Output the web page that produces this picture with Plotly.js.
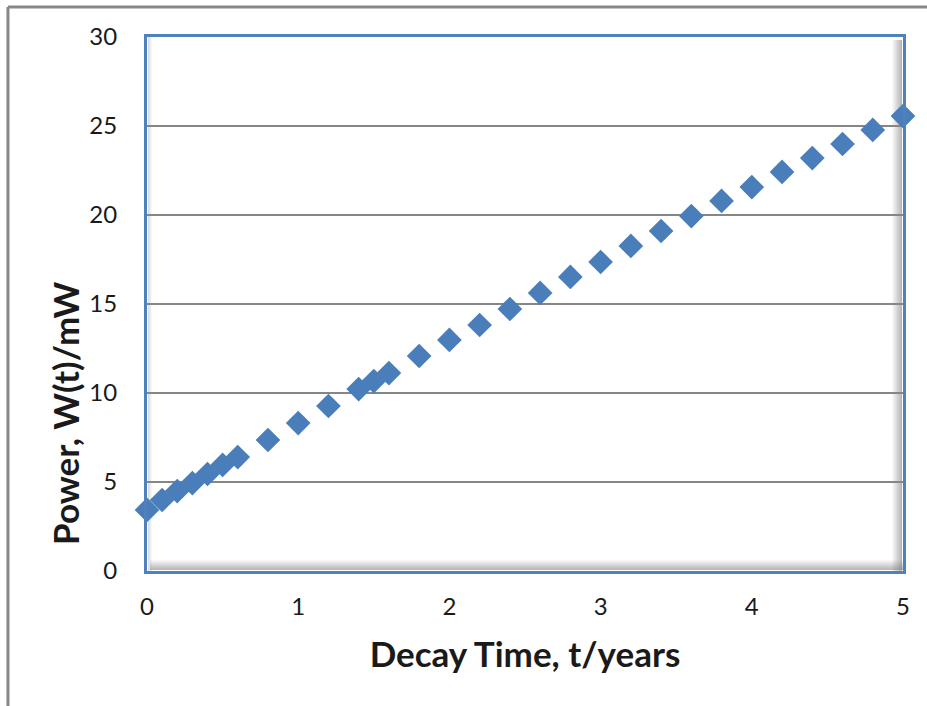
<!DOCTYPE html>
<html>
<head>
<meta charset="utf-8">
<script src="https://cdn.plot.ly/plotly-3.0.1.min.js"></script>
<style>html,body{margin:0;padding:0;background:#fff;}#chart{width:927px;height:706px;}</style>
</head>
<body>
<div id="chart"></div>
<script>
const decayTime = [0, 0.1, 0.2, 0.3, 0.4, 0.5, 0.6, 0.8, 1.0, 1.2, 1.4, 1.5, 1.6, 1.8, 2.0, 2.2, 2.4, 2.6, 2.8, 3.0, 3.2, 3.4, 3.6, 3.8, 4.0, 4.2, 4.4, 4.6, 4.8, 5.0];
const power = [3.43, 3.99, 4.49, 4.94, 5.45, 5.96, 6.40, 7.36, 8.31, 9.27, 10.22, 10.67, 11.12, 12.08, 12.98, 13.82, 14.72, 15.62, 16.52, 17.36, 18.26, 19.10, 19.94, 20.79, 21.57, 22.42, 23.20, 23.99, 24.78, 25.56];
const xTicks = [0, 1, 2, 3, 4, 5];
const yTicks = [0, 5, 10, 15, 20, 25, 30];
const xTitle = 'Decay Time, t/years';
const yTitle = 'Power, W(t)/mW';

const shapes = [];
// inner shadow on right and bottom
const shadeSteps = 10;
for (let i = 0; i < shadeSteps; i++) {
  const op = 0.5 * (1 - i / shadeSteps);
  shapes.push({type:'line', xref:'paper', yref:'paper', x0: 1 - (i + 1.5) / 756, x1: 1 - (i + 1.5) / 756, y0: 0, y1: 1 - 3 / 534, line:{color:'rgba(110,110,110,' + op + ')', width:1}, layer:'below'});
  shapes.push({type:'line', xref:'paper', yref:'paper', x0: 3 / 756, x1: 1, y0: (i + 1.5) / 534, y1: (i + 1.5) / 534, line:{color:'rgba(110,110,110,' + op + ')', width:1}, layer:'below'});
}
for (let i = 0; i < 4; i++) {
  const op = 0.25 * (1 - i / 4);
  shapes.push({type:'line', xref:'paper', yref:'paper', x0: (i + 1.5) / 756, x1: (i + 1.5) / 756, y0: 0, y1: 1, line:{color:'rgba(120,120,120,' + op + ')', width:1}, layer:'below'});
}
// outer frame (top and left)
shapes.push({type:'line', xref:'paper', yref:'paper', x0: -0.1839, x1: 1.04, y0: 1.0562, y1: 1.0562, line:{color:'#888888', width:3}});
shapes.push({type:'line', xref:'paper', yref:'paper', x0: -0.1839, x1: -0.1839, y0: 1.0562, y1: -0.26, line:{color:'#888888', width:3}});

const trace = {
  x: decayTime, y: power, type:'scatter', mode:'markers',
  marker:{symbol:'diamond', size:19, color:'#4a7ebb', line:{width:0}},
  cliponaxis:false, hoverinfo:'none'
};

const fontFam = 'Lato, "Open Sans", sans-serif';
const layout = {
  width:927, height:706,
  margin:{l:147, r:24, t:37, b:135},
  paper_bgcolor:'#ffffff', plot_bgcolor:'#ffffff',
  showlegend:false,
  font:{family:fontFam, color:'#1a1a1a'},
  xaxis:{
    range:[0,5], tickvals:xTicks, ticks:'', showgrid:false, zeroline:false,
    showline:true, mirror:true, linecolor:'#4f81bd', linewidth:3,
    tickfont:{size:24, color:'#1a1a1a'}, ticklabelstandoff:12,
    title:{text:xTitle, font:{size:35, color:'#1a1a1a', weight:'bold'}, standoff:24}
  },
  yaxis:{
    range:[0,30], tickvals:yTicks, ticks:'', showgrid:true, gridcolor:'#868686', gridwidth:2, zeroline:false,
    showline:true, mirror:true, linecolor:'#4f81bd', linewidth:3,
    tickfont:{size:24, color:'#1a1a1a'}, ticklabelstandoff:22,
    title:{text:''}
  },
  annotations:[{
    text:yTitle, xref:'paper', yref:'paper', x:-0.1085, y:0.296, xanchor:'center', yanchor:'middle',
    textangle:-90, showarrow:false, font:{family:fontFam, size:35, color:'#1a1a1a', weight:'bold'}
  }],
  shapes: shapes
};

Plotly.newPlot('chart', [trace], layout, {staticPlot:true, displayModeBar:false});
</script>
</body>
</html>
